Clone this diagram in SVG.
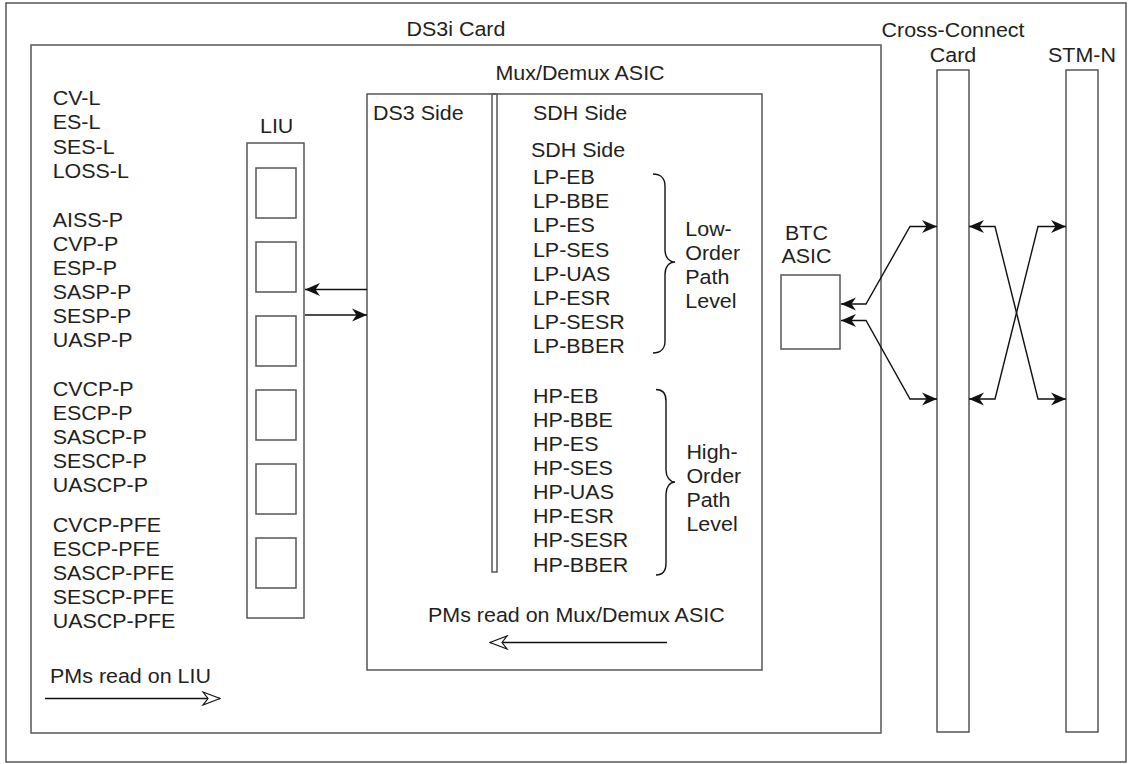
<svg xmlns="http://www.w3.org/2000/svg" width="1131" height="764" viewBox="0 0 1131 764">
<defs>
<style>
.box{fill:none;stroke:#555;stroke-width:1.5}
.wire{fill:none;stroke:#111;stroke-width:1.4}
.t{font-family:"Liberation Sans",Arial,sans-serif;font-size:19.5px;fill:#231f20}
.m{text-anchor:middle}
</style>
<marker id="ah" viewBox="-16 -7 17 14" refX="0" refY="0" markerWidth="17" markerHeight="14" markerUnits="userSpaceOnUse" orient="auto-start-reverse">
<path d="M0,0 L-15,-6.5 L-10.5,0 L-15,6.5 z" fill="#111"/>
</marker>
<marker id="oh" viewBox="-19 -8 20 16" refX="0" refY="0" markerWidth="20" markerHeight="16" markerUnits="userSpaceOnUse" orient="auto">
<path d="M-17,-6.5 L0,0 L-17,6.5 L-12,0 z" fill="#fff" stroke="#111" stroke-width="1.2"/>
</marker>
</defs>
<rect width="1131" height="764" fill="#fff"/>
<g id="frame"><rect class="box" x="6" y="3" width="1120" height="759"/></g>
<g id="ds3i-card"><rect class="box" x="31" y="45" width="850" height="688"/></g>
<g id="liu">
<rect class="box" x="247" y="143" width="57" height="475"/>
<rect class="box" x="256" y="168" width="40" height="50"/>
<rect class="box" x="256" y="242" width="40" height="50"/>
<rect class="box" x="256" y="316" width="40" height="50"/>
<rect class="box" x="256" y="390" width="40" height="50"/>
<rect class="box" x="256" y="464" width="40" height="50"/>
<rect class="box" x="256" y="538" width="40" height="50"/>
</g>
<g id="mux-demux-asic">
<rect class="box" x="367" y="94" width="395" height="576"/>
<rect class="box" x="492" y="94" width="5" height="478"/>
<path class="wire" d="M653,174 C660,174 665,178 665,186 L665,250 C665,257 669,262 675,262 C669,262 665,267 665,274 L665,341 C665,349 660,353 653,353"/>
<path class="wire" d="M656,389.5 C662,389.5 666,393 666,401 L666,470 C666,477 670,482 675,482 C670,482 666,487 666,494 L666,563 C666,571 662,575 656,575"/>
</g>
<g id="btc-asic"><rect class="box" x="781" y="275" width="59" height="74"/></g>
<g id="cross-connect-card"><rect class="box" x="937" y="70" width="32" height="662"/></g>
<g id="stm-n"><rect class="box" x="1066" y="70" width="32" height="662"/></g>
<g id="connectors">
<line class="wire" x1="367" y1="289.5" x2="305" y2="289.5" marker-end="url(#ah)"/>
<line class="wire" x1="305" y1="315" x2="367" y2="315" marker-end="url(#ah)"/>
<polyline class="wire" points="841,304 866,304 910,226.5 937,226.5" marker-start="url(#ah)" marker-end="url(#ah)"/>
<polyline class="wire" points="841,320.5 866,320.5 910,399 937,399" marker-start="url(#ah)" marker-end="url(#ah)"/>
<polyline class="wire" points="969,226.5 995,226.5 1038,399 1066,399" marker-start="url(#ah)" marker-end="url(#ah)"/>
<polyline class="wire" points="1066,226.5 1038,226.5 995,399 969,399" marker-start="url(#ah)" marker-end="url(#ah)"/>
<line class="wire" x1="45" y1="698.5" x2="220" y2="698.5" marker-end="url(#oh)"/>
<line class="wire" x1="667" y1="642.5" x2="490" y2="642.5" marker-end="url(#oh)"/>
</g>
<g id="labels" transform="scale(1.1,1)">
<text class="t m" x="414.5" y="36">DS3i Card</text>
<text class="t m" x="866.4" y="37">Cross-Connect</text>
<text class="t m" x="866.4" y="62">Card</text>
<text class="t m" x="983.6" y="62">STM-N</text>
<text class="t m" x="251.5" y="133">LIU</text>
<text class="t m" x="527.3" y="80">Mux/Demux ASIC</text>
<text class="t" x="339.1" y="120">DS3 Side</text>
<text class="t" x="484.5" y="120">SDH Side</text>
<text class="t" x="482.7" y="157">SDH Side</text>
<text class="t m" x="733.2" y="240">BTC</text>
<text class="t m" x="733.2" y="263">ASIC</text>
<g class="t">
<text x="47.9" y="105">CV-L</text>
<text x="47.9" y="129.5">ES-L</text>
<text x="47.9" y="154">SES-L</text>
<text x="47.9" y="178">LOSS-L</text>
<text x="47.9" y="227">AISS-P</text>
<text x="47.9" y="251">CVP-P</text>
<text x="47.9" y="275">ESP-P</text>
<text x="47.9" y="299">SASP-P</text>
<text x="47.9" y="323">SESP-P</text>
<text x="47.9" y="347">UASP-P</text>
<text x="47.9" y="396">CVCP-P</text>
<text x="47.9" y="420">ESCP-P</text>
<text x="47.9" y="444">SASCP-P</text>
<text x="47.9" y="468">SESCP-P</text>
<text x="47.9" y="492">UASCP-P</text>
<text x="47.9" y="532">CVCP-PFE</text>
<text x="47.9" y="556">ESCP-PFE</text>
<text x="47.9" y="580">SASCP-PFE</text>
<text x="47.9" y="604">SESCP-PFE</text>
<text x="47.9" y="628">UASCP-PFE</text>
<text x="45.5" y="683">PMs read on LIU</text>
<text x="484.5" y="184">LP-EB</text>
<text x="484.5" y="208">LP-BBE</text>
<text x="484.5" y="232.5">LP-ES</text>
<text x="484.5" y="257">LP-SES</text>
<text x="484.5" y="281">LP-UAS</text>
<text x="484.5" y="305">LP-ESR</text>
<text x="484.5" y="329">LP-SESR</text>
<text x="484.5" y="353.5">LP-BBER</text>
<text x="623" y="236.5">Low-</text>
<text x="623" y="260.5">Order</text>
<text x="623" y="284.5">Path</text>
<text x="623" y="308.5">Level</text>
<text x="484.5" y="403.5">HP-EB</text>
<text x="484.5" y="427.5">HP-BBE</text>
<text x="484.5" y="451.5">HP-ES</text>
<text x="484.5" y="475.5">HP-SES</text>
<text x="484.5" y="499.5">HP-UAS</text>
<text x="484.5" y="523.5">HP-ESR</text>
<text x="484.5" y="547.5">HP-SESR</text>
<text x="484.5" y="572">HP-BBER</text>
<text x="624" y="459">High-</text>
<text x="624" y="483">Order</text>
<text x="624" y="507">Path</text>
<text x="624" y="531">Level</text>
<text x="389.1" y="622">PMs read on Mux/Demux ASIC</text>
</g>
</g>
</svg>
